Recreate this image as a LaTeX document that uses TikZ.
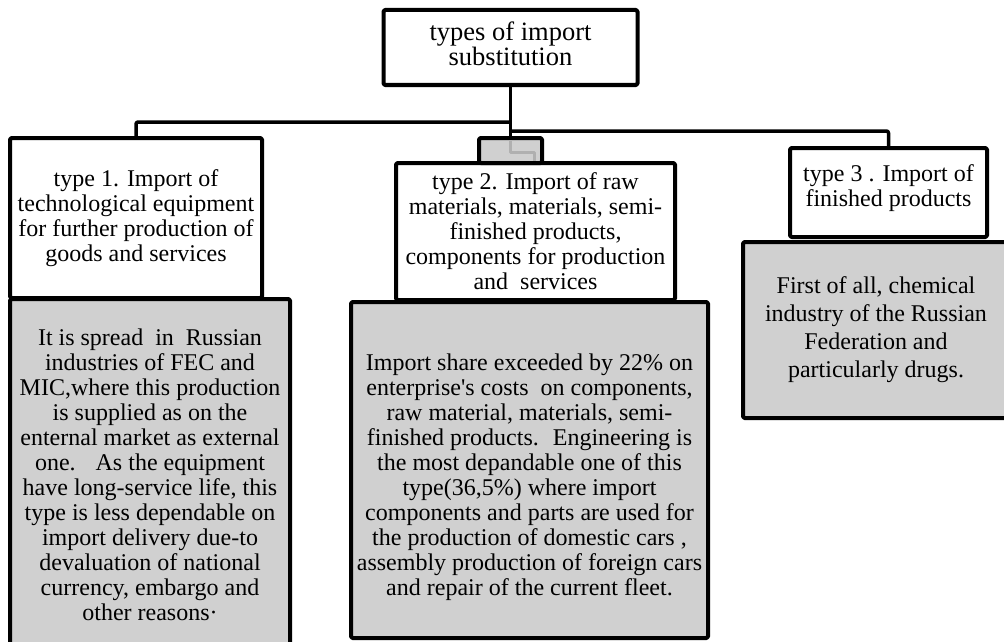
\documentclass[tikz,border=0pt]{standalone}
\usepackage{fontspec}
\setmainfont{Liberation Serif}
\definecolor{boxgray}{RGB}{208,208,208}
\definecolor{seamgray}{RGB}{176,176,176}

\begin{document}
\begin{tikzpicture}[x=1pt, y=-1pt, line join=round,
  box/.style={draw, line width=4pt, rounded corners=1.5pt, inner sep=0pt,
    align=center, font=\fontsize{24}{25}\selectfont},
  greybox/.style={box, fill=boxgray},
  link/.style={line width=3.5pt, rounded corners=2pt}]

\useasboundingbox (0,0) rectangle (1004,642);

% Define coordinates
\coordinate (jL) at (510.5,122);
\coordinate (jR) at (510.5,131);

% Root and the three types
\node[box, minimum width=254pt, minimum height=75pt, font=\fontsize{26.5}{25}\selectfont] (root) at (510.5,47.5) {types of import\\substitution\rule[-7pt]{0pt}{7pt}};
\node[box, minimum width=252pt, minimum height=160pt] (typeA) at (136,218) {type 1. Import of\\technological equipment\\for further production of\\goods and services};
\node[box, minimum width=279pt, minimum height=137pt] (typeB) at (535.5,231.5) {type 2. Import of raw\\materials, materials, semi-\\finished products,\\components for production\\and~ services};
\node[box, minimum width=197pt, minimum height=89pt] (typeC) at (888.5,192.5) {type 3 . Import of\\finished products\rule[-13pt]{0pt}{1pt}};

% Small box above type 2
\node[greybox, minimum width=63pt, minimum height=25pt] (hub) at (510.5,150.5) {};
\draw[seamgray, line width=3pt] (510.5,141) -- (510.5,152) -- (534,152) -- (534,161);

% Descriptions
\node[greybox, minimum width=280pt, minimum height=352pt] (descA) at (150,475) {It is spread~ in~ Russian\\industries of FEC and\\MIC,where this production\\is supplied as on the\\enternal market as external\\one.~~ As the equipment\\have long-service life, this\\type is less dependable on\\import delivery due-to\\devaluation of national\\currency, embargo and\\other reasons·};
\node[greybox, minimum width=357pt, minimum height=336pt] (descB) at (529.5,470) {\rule{0pt}{30.5pt}Import share exceeded by 22\% on\\enterprise\textquotesingle s costs~ on components,\\raw material, materials, semi-\\finished products.~ Engineering is\\the most depandable one of this\\type(36,5\%) where import\\components and parts are used for\\the production of domestic cars ,\\assembly production of foreign cars\\and repair of the current fleet.};
\node[greybox, minimum width=266pt, minimum height=176pt, font=\fontsize{24}{28}\selectfont] (descC) at (876,330) {First of all, chemical\\industry of the Russian\\Federation and\\particularly drugs.};

% Connectors
\draw[link] (root.south) -- (hub.north);
\draw[link] (jL) -| (typeA.north);
\draw[link] (jR) -| (typeC.north);

\end{tikzpicture}
\end{document}
